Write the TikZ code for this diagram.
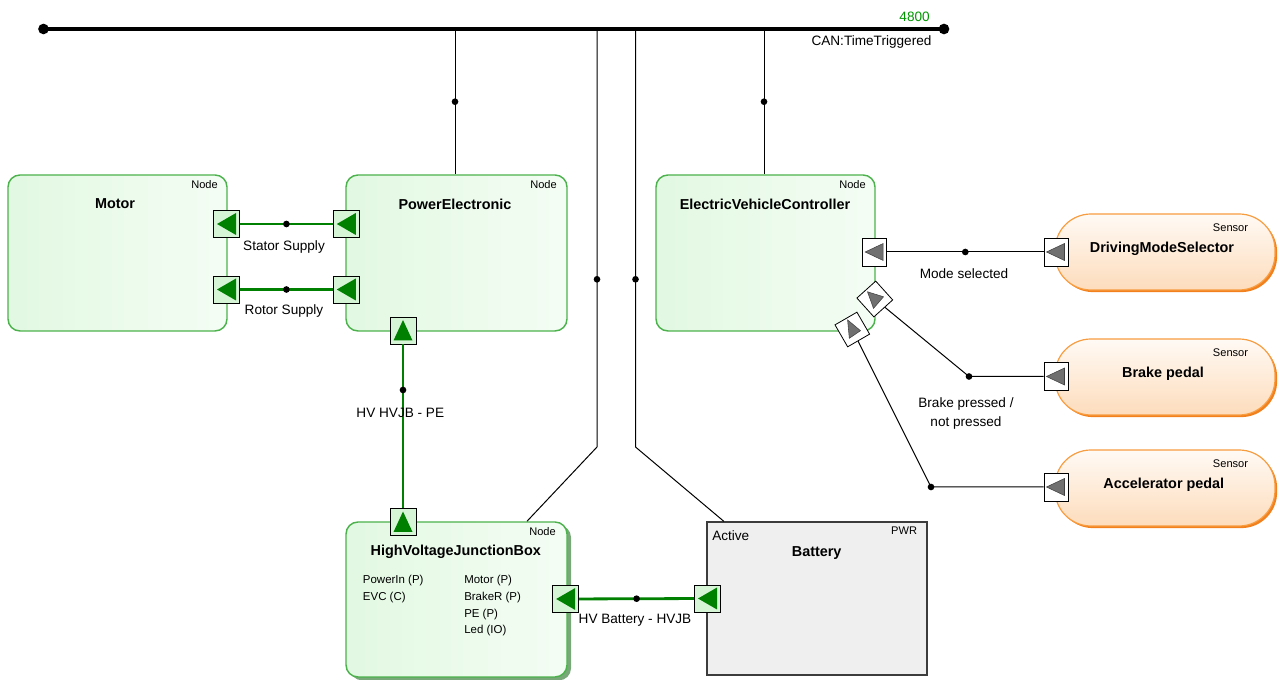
\documentclass[tikz,border=0pt]{standalone}
\usepackage{fontspec}
\setmainfont{Liberation Sans}
\usetikzlibrary{calc,shadows}

\definecolor{boxedge}{RGB}{76,178,76}
\definecolor{boxA}{RGB}{226,248,226}
\definecolor{boxB}{RGB}{244,253,244}
\definecolor{boxshadow}{RGB}{120,168,120}
\definecolor{linkgreen}{RGB}{0,128,0}
\definecolor{portgreen}{RGB}{214,245,214}
\definecolor{trigreen}{RGB}{0,128,0}
\definecolor{trigray}{RGB}{112,112,112}
\definecolor{senedge}{RGB}{248,156,64}
\definecolor{senshadow}{RGB}{242,128,28}
\definecolor{senA}{RGB}{255,250,245}
\definecolor{senB}{RGB}{253,220,188}
\definecolor{battfill}{RGB}{239,239,239}
\definecolor{battedge}{RGB}{60,60,60}
\definecolor{ratecol}{RGB}{0,150,0}

\tikzset{
  ecu/.style={draw=boxedge, line width=1.1pt, rounded corners=9pt,
    left color=boxA, right color=boxB, minimum height=117pt, inner sep=0pt},
  sensor/.style={draw=senedge, line width=0.9pt, rounded corners=27pt,
    top color=senA, bottom color=senB, minimum width=165pt, minimum height=57pt,
    inner sep=0pt,
    drop shadow={shadow xshift=1.6pt, shadow yshift=-1.6pt, fill=senshadow, opacity=1}},
  gport/.style={draw=black, line width=0.6pt, fill=portgreen,
    minimum width=19.5pt, minimum height=20.25pt, inner sep=0pt},
  wport/.style={draw=black, line width=0.6pt, fill=white,
    minimum width=18pt, minimum height=21pt, inner sep=0pt},
  gleft/.style={path picture={\fill[trigreen]
    ($(path picture bounding box.center)+(-9.5,0)$) -- ++(19,-11) -- ++(0,22) -- cycle;}},
  gup/.style={path picture={\fill[trigreen]
    ($(path picture bounding box.center)+(0,-10.5)$) -- ++(9.5,20.5) -- ++(-19,0) -- cycle;}},
  wleft/.style={path picture={\filldraw[fill=trigray, draw=black!75, line width=0.4pt]
    ($(path picture bounding box.center)+(-9.5,0)$) -- ++(18,-8.5) -- ++(0,17) -- cycle;}},
  rport/.style={draw=black, line width=0.6pt, fill=white,
    minimum width=19pt, minimum height=19pt, inner sep=0pt},
  rtri/.style={fill=trigray, draw=black!75, line width=0.4pt},
  lbl/.style={font=\fontsize{10.2}{12}\selectfont, inner sep=0pt},
  ttl/.style={font=\bfseries\fontsize{10.8}{13}\selectfont, inner sep=0pt},
  tag/.style={font=\fontsize{8.3}{10}\selectfont, inner sep=0pt, anchor=east},
  sub/.style={font=\fontsize{8.6}{10}\selectfont, inner sep=0pt, anchor=west},
  jdot/.style={circle, fill=black, inner sep=0pt, minimum size=5pt},
  busend/.style={circle, fill=black, inner sep=0pt, minimum size=8pt},
  wire/.style={draw=black, line width=0.75pt},
  link/.style={draw=linkgreen, line width=2.1pt},
}

\begin{document}
\begin{tikzpicture}[x=0.75pt, y=-0.75pt]
\useasboundingbox (0,0) rectangle (1283,680);

% CAN bus taps
\coordinate (t1) at (455,29);
\coordinate (t2) at (597,29);
\coordinate (t3) at (635.5,29);
\coordinate (t4) at (764,29);
\coordinate (b2) at (597,447);
\coordinate (b3) at (635.5,447);

% ECU nodes
\node[ecu, minimum width=164.25pt] (motor) at (117.5,253) {};
\node[ecu, minimum width=165.75pt] (pe) at (456.5,253) {};
\node[ecu, minimum width=164.25pt] (evc) at (765.5,253) {};
\node[ecu, minimum width=165.75pt, minimum height=116.25pt,
      drop shadow={shadow xshift=3pt, shadow yshift=-2.5pt, fill=boxshadow, opacity=1}]
      (hvjb) at (456.5,599.5) {};
\node[draw=battedge, line width=0.8pt, fill=battfill, minimum width=165pt,
      minimum height=114.75pt, inner sep=0pt] (batt) at (817,598.5) {};

% Sensors
\node[sensor] (sen1) at (1165,252) {};
\node[sensor] (sen2) at (1165,377) {};
\node[sensor] (sen3) at (1165,488) {};

% Bus stubs
\draw[wire] (t1) -- (t1 |- pe.north);
\draw[wire] (t2) -- (b2) -- (527,0 |- hvjb.north);
\draw[wire] (t3) -- (b3) -- (724,0 |- batt.north);
\draw[wire] (t4) -- (t4 |- evc.north);
\node[jdot] (j1) at (455,101.7) {};
\node[jdot] (j2) at (597,279.3) {};
\node[jdot] (j3) at (635.5,279.3) {};
\node[jdot] (j4) at (764,101.7) {};

% CAN bus
\node[busend] (busL) at (43.5,29) {};
\node[busend] (busR) at (944,29) {};
\draw[black, line width=2.3pt] (busL.center) -- (busR.center);
\node[lbl, anchor=east, text=ratecol] (rate) at (930,17.3) {4800};
\node[lbl, anchor=east] (busname) at (931.7,42.3) {CAN:TimeTriggered};

% Ports
\node[gport, gleft] (mp1) at (226.5,224) {};
\node[gport, gleft] (mp2) at (226.5,289.5) {};
\node[gport, gleft] (pp1) at (346.3,224) {};
\node[gport, gleft] (pp2) at (346.3,289.5) {};
\node[gport, gup] (pp3) at (403,330.5) {};
\node[gport, gup] (hp1) at (403,522) {};
\node[gport, gleft] (hp2) at (565.7,599) {};
\node[gport, gleft] (bp) at (707.5,598.5) {};
\node[wport, wleft] (ep1) at (874.7,252) {};
\node[wport, wleft] (sp1) at (1056,252) {};
\node[wport, wleft] (sp2) at (1056,376.5) {};
\node[wport, wleft] (sp3) at (1056,487) {};
\node[rport, rotate=42] (ep2) at (874.8,299) {};
\node[rport, rotate=30] (ep3) at (852.3,329.5) {};
\begin{scope}[shift={(ep2.center)}]
  \filldraw[rtri] (-7.3,-7.2) -- (8.7,-2.2) -- (-1.3,9.4) -- cycle;
\end{scope}
\begin{scope}[shift={(ep3.center)}]
  \filldraw[rtri] (-4.7,-9.6) -- (8.2,1.2) -- (-3,8.8) -- cycle;
\end{scope}

% Power links
\draw[link] (mp1) -- (pp1);
\draw[link] (mp2) -- (pp2);
\draw[link] (pp3) -- (hp1);
\draw[link] (hp2) -- (bp);
\node[jdot] (d1) at (286.4,224) {};
\node[jdot] (d2) at (286.4,289.5) {};
\node[jdot] (d3) at (403,390) {};
\node[jdot] (d4) at (636.6,598.7) {};

% Signal links
\node[jdot] (d5) at (969,376.5) {};
\node[jdot] (d6) at (931,487) {};
\node[jdot] (d7) at (965.3,252) {};
\draw[wire] (ep1) -- (sp1);
\draw[wire] (ep2) -- (d5.center) -- (sp2);
\draw[wire] (ep3) -- (d6.center) -- (sp3);

% Link labels
\node[lbl] (lStator) at (284,246.7) {Stator Supply};
\node[lbl] (lRotor) at (284,310.7) {Rotor Supply};
\node[lbl] (lHvPe) at (400.3,412.7) {HV HVJB - PE};
\node[lbl] (lHvBatt) at (635,620.7) {HV Battery - HVJB};
\node[lbl] (lMode) at (964,273.3) {Mode selected};
\node[lbl] (lBrake1) at (966,404) {Brake pressed /};
\node[lbl] (lBrake2) at (966,422.7) {not pressed};

% Node texts
\node[ttl] (tMotor) at (115,204) {Motor};
\node[tag] (gMotor) at (218,184.5) {Node};
\node[ttl] (tPE) at (455,204) {PowerElectronic};
\node[tag] (gPE) at (557,184.5) {Node};
\node[ttl] (tEVC) at (765,204) {ElectricVehicleController};
\node[tag] (gEVC) at (866,184.5) {Node};
\node[ttl] (tHVJB) at (455.8,551.7) {HighVoltageJunctionBox};
\node[tag] (gHVJB) at (556,531.7) {Node};
\node[sub] (s1) at (362.7,581) {PowerIn (P)};
\node[sub] (s2) at (362.7,598) {EVC (C)};
\node[sub] (s3) at (464,581) {Motor (P)};
\node[sub] (s4) at (464,598) {BrakeR (P)};
\node[sub] (s5) at (464,614.5) {PE (P)};
\node[sub] (s6) at (464,631) {Led (IO)};
\node[lbl, anchor=west] (tActive) at (712,536) {Active};
\node[tag] (gBatt) at (917.3,531) {PWR};
\node[ttl] (tBatt) at (816.7,552.7) {Battery};
\node[tag] (gS1) at (1248.3,227.3) {Sensor};
\node[tag] (gS2) at (1248.3,352.7) {Sensor};
\node[tag] (gS3) at (1248.3,463.3) {Sensor};
\node[ttl] (tS1) at (1162,249) {DrivingModeSelector};
\node[ttl] (tS2) at (1163,374) {Brake pedal};
\node[ttl] (tS3) at (1163.8,485) {Accelerator pedal};
\end{tikzpicture}
\end{document}
